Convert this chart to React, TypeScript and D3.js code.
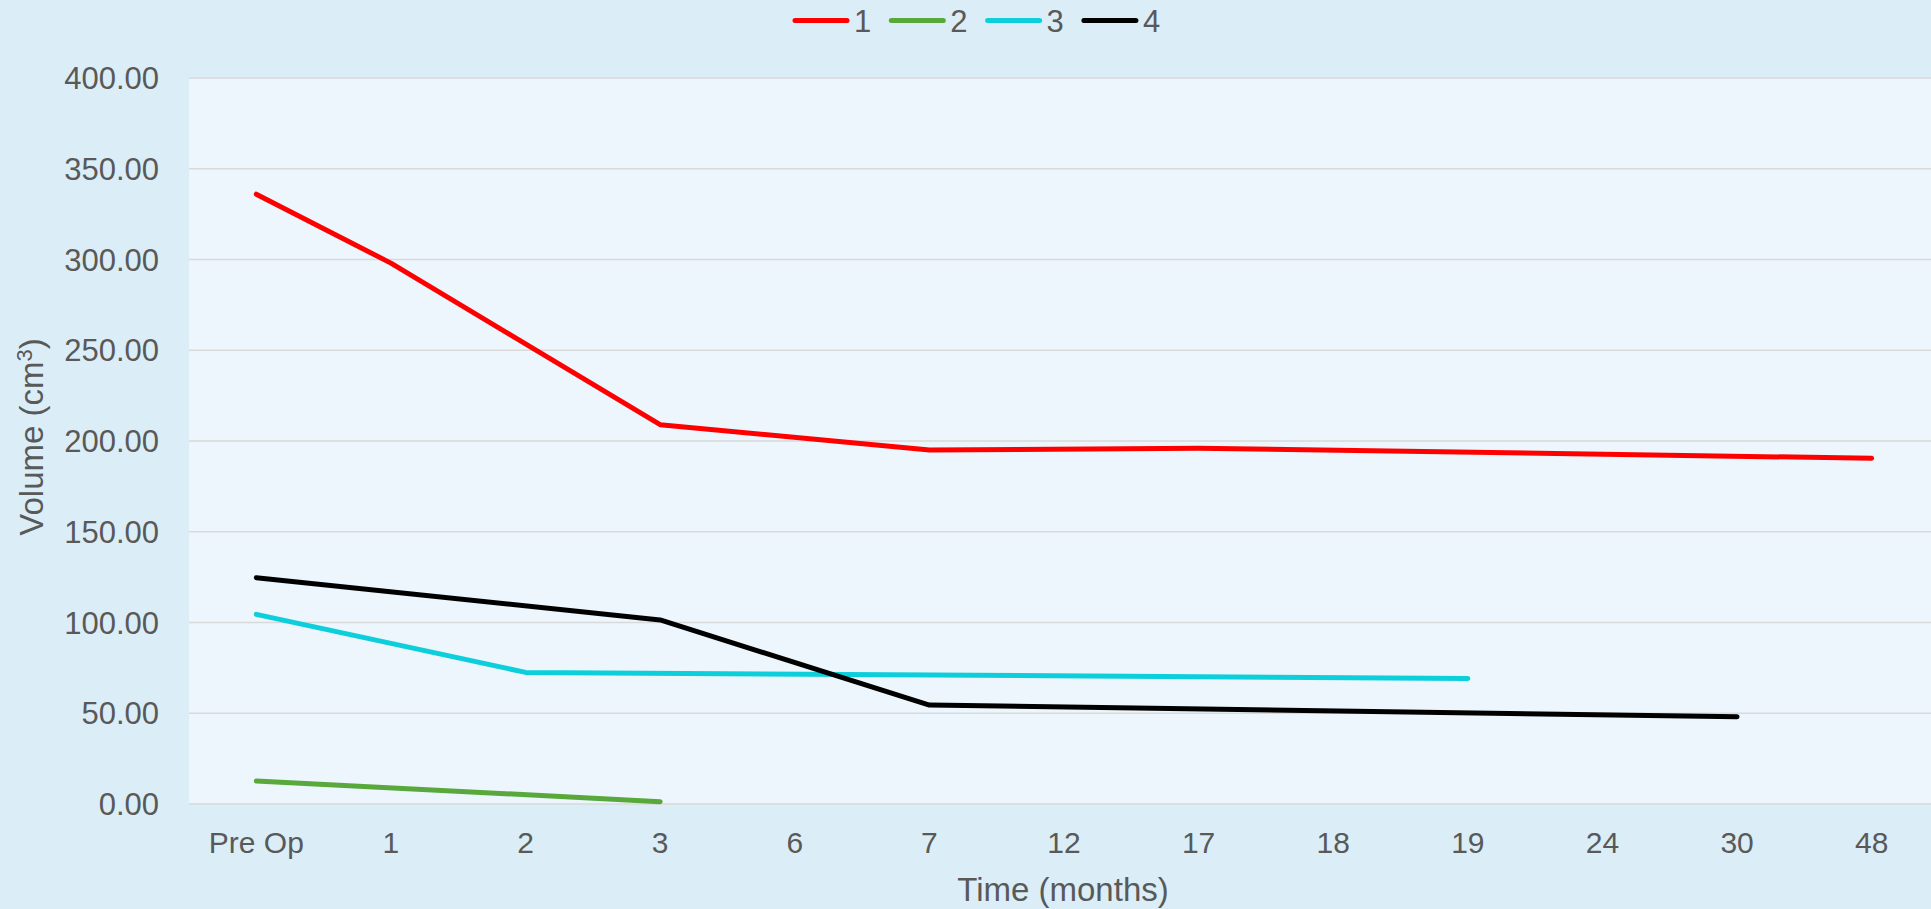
import React from 'react';
import * as d3 from 'd3';

// chart values
const categories = ['Pre Op', '1', '2', '3', '6', '7', '12', '17', '18', '19', '24', '30', '48'];
const seriesNames = ['1', '2', '3', '4'];
const series1 = [336, 298, null, 209, null, 195, null, 196, null, null, null, null, 190.5];
const series2 = [12.7, null, null, 1.3, null, null, null, null, null, null, null, null, null];
const series3 = [104.5, null, 72.5, null, null, null, null, null, null, 69.2, null, null, null];
const series4 = [124.7, null, null, 101.4, null, 54.5, null, null, null, null, null, 48.1, null];
const yTicks = [0, 50, 100, 150, 200, 250, 300, 350, 400];
const colors = ['#FF0000', '#58A83C', '#0DCFDB', '#000000'];

const W = 1931;
const H = 909;
// the plot area runs a few px past the right edge of the picture
const margin = { top: 78, right: -8, bottom: 105, left: 189 };
const font = '"Liberation Sans", Arial, sans-serif';
const textColor = '#595959';

export default function App() {
  const allSeries = [series1, series2, series3, series4];

  const xScale = d3.scaleBand()
    .domain(categories)
    .range([margin.left, W - margin.right]);

  const yScale = d3.scaleLinear()
    .domain([0, 400])
    .range([H - margin.bottom, margin.top]);

  const cx = (c: string) => (xScale(c) as number) + xScale.bandwidth() / 2;

  // Excel style: gaps are bridged by joining the points that exist
  const line = d3.line<{ c: string; v: number }>()
    .x(d => cx(d.c))
    .y(d => yScale(d.v));

  const paths = allSeries.map(vals =>
    line(
      vals
        .map((v, i) => ({ c: categories[i], v: v as number }))
        .filter(d => d.v !== null)
    )
  );

  const plotLeft = margin.left;
  const plotRight = W - margin.right;
  const plotBottom = H - margin.bottom;

  // legend layout
  const legendX = 793;
  const legendY = 20.5;
  const swatch = 56;
  const step = 96.3;

  return (
    <svg width={W} height={H} style={{ position: 'absolute', left: 0, top: 0 }}
      fontFamily={font}>
      <rect x={0} y={0} width={W} height={H} fill="#DBEEF7" />
      <rect x={plotLeft} y={margin.top} width={plotRight - plotLeft}
        height={plotBottom - margin.top} fill="#ECF6FC" />

      {yTicks.map(t => (
        <g key={t}>
          <line x1={plotLeft} x2={plotRight} y1={yScale(t)} y2={yScale(t)}
            stroke="#D9D9D9" strokeWidth={1.5} />
          <text x={159} y={yScale(t)} dy="0.36em" textAnchor="end"
            fontSize={31} fill={textColor}>{t.toFixed(2)}</text>
        </g>
      ))}

      {categories.map(c => (
        <text key={c} x={cx(c)} y={853} textAnchor="middle" fontSize={30}
          fill={textColor}>{c}</text>
      ))}

      {paths.map((d, i) => (
        <path key={i} d={d || ''} fill="none" stroke={colors[i]} strokeWidth={5}
          strokeLinecap="round" strokeLinejoin="round" />
      ))}

      <text x={1063} y={901} textAnchor="middle" fontSize={33}
        fill={textColor}>Time (months)</text>

      <text transform={`translate(43, 437) rotate(-90)`}
        textAnchor="middle" fontSize={33} fill={textColor}>
        Volume (cm<tspan dy="-11" fontSize={22}>3</tspan><tspan dy="11">)</tspan>
      </text>

      {seriesNames.map((n, i) => (
        <g key={n} transform={`translate(${legendX + i * step}, ${legendY})`}>
          <line x1={2} x2={swatch - 2} y1={0} y2={0} stroke={colors[i]} strokeWidth={5}
            strokeLinecap="round" />
          <text x={swatch + 5} y={0} dy="0.36em" fontSize={31} fill={textColor}>{n}</text>
        </g>
      ))}
    </svg>
  );
}
